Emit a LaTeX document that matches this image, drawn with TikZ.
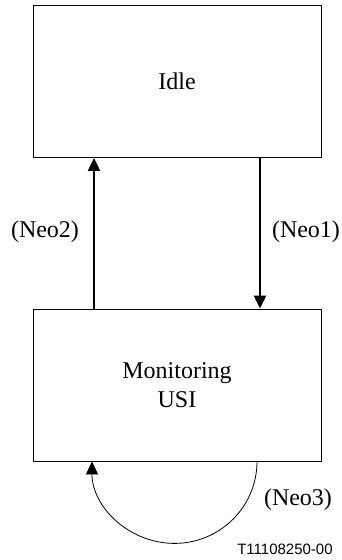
\documentclass[tikz,border=0pt]{standalone}
\usepackage{fontspec}
\setmainfont{Liberation Serif}
\newfontfamily\labsans{Liberation Sans}
\usetikzlibrary{arrows.meta}
\begin{document}
\begin{tikzpicture}[x=1pt,y=-1pt,
  statebox/.style={draw,line width=0.8pt,minimum width=288pt,minimum height=152pt,inner sep=0pt,font=\fontsize{24}{29}\selectfont,align=center},
  lab/.style={font=\fontsize{24}{28}\selectfont,inner sep=0pt},
  flow/.style={line width=2pt,-{Triangle[width=12pt,length=13pt]}},
  loopflow/.style={line width=0.8pt,-{Triangle[width=12pt,length=13pt]}}]
\useasboundingbox (0,0) rectangle (342,560);
\node[statebox] (idle) at (177,81.5) {Idle};
\node[statebox] (mon) at (177,385) {Monitoring\\USI};
\draw[flow] ([xshift=-83pt]mon.north) -- ([xshift=-83pt]idle.south);
\draw[flow] ([xshift=83pt]idle.south) -- ([xshift=83pt]mon.north);
\node[lab] (n2) at (45,232) {(Neo2)};
\node[lab] (n1) at (306,232) {(Neo1)};
\draw[loopflow] ([xshift=80pt]mon.south) arc[start angle=0,end angle=180,x radius=82.5,y radius=82];
\node[lab] (n3) at (298,500) {(Neo3)};
\node[font=\labsans\fontsize{15}{18}\selectfont,inner sep=0pt] (tag) at (285,549) {T11108250-00};
\end{tikzpicture}
\end{document}
